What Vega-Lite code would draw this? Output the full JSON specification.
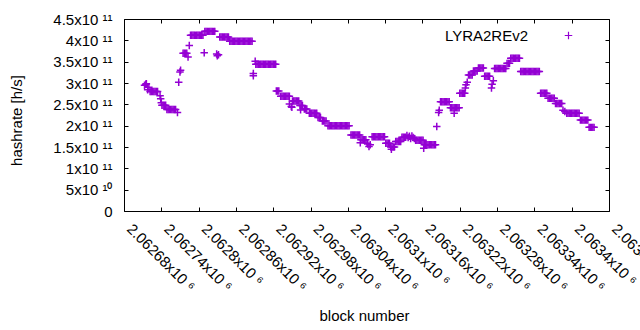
{
"$schema":"https://vega.github.io/schema/vega-lite/v6.json",
"width":485,"height":192,
"autosize":{"type":"none"},
"padding":{"left":124,"top":19,"right":31,"bottom":119},
"background":"white",
"config":{"view":{"stroke":"black","strokeWidth":1},"font":"Liberation Sans",
"axis":{"labelFont":"Liberation Sans","labelFontSize":15,"labelColor":"black","titleFont":"Liberation Sans","titleFontSize":15,"titleFontWeight":"normal","titleColor":"black","tickColor":"black","tickSize":-4,"domain":false,"grid":false}},
"data":{"values":[
{"b":2062713,"h":2.95e11},{"b":2062715,"h":2.97e11},{"b":2062716,"h":2.98e11},{"b":2062718,"h":2.84e11},{"b":2062720,"h":2.9e11},
{"b":2062722,"h":2.8e11},{"b":2062724,"h":2.8e11},{"b":2062726,"h":2.8e11},{"b":2062728,"h":2.8e11},{"b":2062730,"h":2.8e11},{"b":2062732,"h":2.8e11},{"b":2062734,"h":2.8e11},
{"b":2062738,"h":2.7e11},{"b":2062739,"h":2.63e11},{"b":2062740,"h":2.54e11},
{"b":2062741,"h":2.48e11},{"b":2062743,"h":2.48e11},{"b":2062745,"h":2.48e11},{"b":2062747,"h":2.48e11},
{"b":2062749,"h":2.38e11},{"b":2062751,"h":2.38e11},{"b":2062753,"h":2.38e11},{"b":2062755,"h":2.38e11},{"b":2062757,"h":2.38e11},{"b":2062759,"h":2.38e11},{"b":2062761,"h":2.38e11},{"b":2062763,"h":2.38e11},
{"b":2062766,"h":2.31e11},{"b":2062768,"h":3.02e11},{"b":2062770,"h":3.26e11},{"b":2062771,"h":3.3e11},
{"b":2062775,"h":3.7e11},{"b":2062777,"h":3.7e11},{"b":2062779,"h":3.7e11},{"b":2062781,"h":3.7e11},
{"b":2062783,"h":3.61e11},{"b":2062785,"h":3.88e11},
{"b":2062787,"h":4.12e11},{"b":2062789,"h":4.12e11},{"b":2062791,"h":4.12e11},{"b":2062793,"h":4.12e11},{"b":2062795,"h":4.12e11},{"b":2062797,"h":4.12e11},{"b":2062799,"h":4.12e11},{"b":2062801,"h":4.12e11},{"b":2062803,"h":4.12e11},{"b":2062805,"h":4.12e11},{"b":2062807,"h":4.12e11},
{"b":2062809,"h":3.71e11},
{"b":2062810,"h":4.21e11},{"b":2062812,"h":4.21e11},{"b":2062814,"h":4.21e11},{"b":2062816,"h":4.21e11},{"b":2062818,"h":4.21e11},{"b":2062820,"h":4.21e11},{"b":2062822,"h":4.21e11},{"b":2062824,"h":4.21e11},{"b":2062826,"h":4.21e11},
{"b":2062829,"h":3.68e11},{"b":2062830,"h":3.64e11},{"b":2062832,"h":3.66e11},
{"b":2062834,"h":4.08e11},{"b":2062836,"h":4.08e11},{"b":2062838,"h":4.08e11},{"b":2062840,"h":4.08e11},{"b":2062842,"h":4.08e11},{"b":2062844,"h":4.08e11},{"b":2062846,"h":4.08e11},{"b":2062848,"h":4.08e11},
{"b":2062850,"h":3.98e11},{"b":2062852,"h":3.98e11},{"b":2062854,"h":3.98e11},{"b":2062856,"h":3.98e11},{"b":2062858,"h":3.98e11},{"b":2062860,"h":3.98e11},{"b":2062862,"h":3.98e11},{"b":2062864,"h":3.98e11},{"b":2062866,"h":3.98e11},{"b":2062868,"h":3.98e11},{"b":2062870,"h":3.98e11},{"b":2062872,"h":3.98e11},{"b":2062874,"h":3.98e11},{"b":2062876,"h":3.98e11},{"b":2062878,"h":3.98e11},{"b":2062880,"h":3.98e11},{"b":2062882,"h":3.98e11},{"b":2062884,"h":3.98e11},{"b":2062886,"h":3.98e11},
{"b":2062888,"h":3.22e11},{"b":2062888,"h":3.17e11},{"b":2062891,"h":3.51e11},
{"b":2062892,"h":3.44e11},{"b":2062894,"h":3.44e11},{"b":2062896,"h":3.44e11},{"b":2062898,"h":3.44e11},{"b":2062900,"h":3.44e11},{"b":2062902,"h":3.44e11},{"b":2062904,"h":3.44e11},{"b":2062906,"h":3.44e11},{"b":2062908,"h":3.44e11},{"b":2062910,"h":3.44e11},{"b":2062912,"h":3.44e11},{"b":2062914,"h":3.44e11},{"b":2062916,"h":3.44e11},{"b":2062918,"h":3.44e11},{"b":2062920,"h":3.44e11},{"b":2062922,"h":3.44e11},{"b":2062924,"h":3.44e11},
{"b":2062925,"h":2.81e11},{"b":2062927,"h":2.81e11},{"b":2062929,"h":2.81e11},
{"b":2062932,"h":2.69e11},{"b":2062934,"h":2.69e11},{"b":2062936,"h":2.69e11},{"b":2062938,"h":2.69e11},{"b":2062940,"h":2.69e11},{"b":2062942,"h":2.69e11},{"b":2062944,"h":2.69e11},{"b":2062946,"h":2.69e11},
{"b":2062946,"h":2.51e11},{"b":2062949,"h":2.45e11},{"b":2062950,"h":2.43e11},
{"b":2062951,"h":2.58e11},{"b":2062953,"h":2.58e11},{"b":2062955,"h":2.58e11},{"b":2062957,"h":2.58e11},{"b":2062959,"h":2.58e11},{"b":2062961,"h":2.58e11},
{"b":2062963,"h":2.47e11},{"b":2062965,"h":2.47e11},{"b":2062967,"h":2.47e11},{"b":2062964,"h":2.37e11},
{"b":2062970,"h":2.39e11},{"b":2062972,"h":2.39e11},{"b":2062974,"h":2.39e11},
{"b":2062978,"h":2.29e11},{"b":2062980,"h":2.29e11},{"b":2062982,"h":2.29e11},{"b":2062984,"h":2.29e11},{"b":2062986,"h":2.29e11},{"b":2062988,"h":2.29e11},{"b":2062990,"h":2.29e11},
{"b":2062992,"h":2.19e11},{"b":2062994,"h":2.19e11},{"b":2062996,"h":2.19e11},
{"b":2062999,"h":2.11e11},{"b":2063001,"h":2.11e11},{"b":2063003,"h":2.11e11},{"b":2063005,"h":2.11e11},
{"b":2063008,"h":2.0e11},{"b":2063010,"h":2.0e11},{"b":2063012,"h":2.0e11},{"b":2063014,"h":2.0e11},{"b":2063016,"h":2.0e11},{"b":2063018,"h":2.0e11},{"b":2063020,"h":2.0e11},{"b":2063022,"h":2.0e11},{"b":2063024,"h":2.0e11},{"b":2063026,"h":2.0e11},{"b":2063028,"h":2.0e11},{"b":2063030,"h":2.0e11},{"b":2063032,"h":2.0e11},{"b":2063034,"h":2.0e11},{"b":2063036,"h":2.0e11},{"b":2063038,"h":2.0e11},{"b":2063040,"h":2.0e11},{"b":2063042,"h":2.0e11},
{"b":2063045,"h":1.78e11},{"b":2063047,"h":1.78e11},{"b":2063049,"h":1.78e11},{"b":2063051,"h":1.78e11},{"b":2063053,"h":1.78e11},{"b":2063055,"h":1.78e11},{"b":2063057,"h":1.78e11},{"b":2063059,"h":1.78e11},
{"b":2063060,"h":1.6e11},
{"b":2063061,"h":1.67e11},{"b":2063063,"h":1.67e11},{"b":2063065,"h":1.67e11},{"b":2063067,"h":1.67e11},{"b":2063069,"h":1.67e11},
{"b":2063071,"h":1.59e11},{"b":2063072,"h":1.57e11},{"b":2063074,"h":1.51e11},{"b":2063076,"h":1.55e11},
{"b":2063079,"h":1.74e11},{"b":2063081,"h":1.74e11},{"b":2063083,"h":1.74e11},{"b":2063085,"h":1.74e11},{"b":2063087,"h":1.74e11},{"b":2063089,"h":1.74e11},{"b":2063091,"h":1.74e11},{"b":2063093,"h":1.74e11},{"b":2063095,"h":1.74e11},{"b":2063097,"h":1.74e11},{"b":2063099,"h":1.74e11},
{"b":2063101,"h":1.59e11},{"b":2063103,"h":1.59e11},{"b":2063105,"h":1.59e11},{"b":2063107,"h":1.59e11},
{"b":2063109,"h":1.5e11},{"b":2063111,"h":1.5e11},{"b":2063113,"h":1.5e11},{"b":2063115,"h":1.5e11},{"b":2063110,"h":1.45e11},
{"b":2063117,"h":1.63e11},{"b":2063119,"h":1.63e11},{"b":2063121,"h":1.63e11},{"b":2063123,"h":1.63e11},{"b":2063125,"h":1.63e11},
{"b":2063127,"h":1.73e11},{"b":2063129,"h":1.73e11},{"b":2063131,"h":1.73e11},{"b":2063133,"h":1.73e11},
{"b":2063135,"h":1.77e11},{"b":2063137,"h":1.72e11},{"b":2063139,"h":1.75e11},{"b":2063141,"h":1.7e11},{"b":2063143,"h":1.76e11},{"b":2063145,"h":1.72e11},{"b":2063147,"h":1.7e11},
{"b":2063149,"h":1.66e11},{"b":2063151,"h":1.66e11},{"b":2063153,"h":1.66e11},{"b":2063155,"h":1.66e11},{"b":2063157,"h":1.66e11},{"b":2063159,"h":1.66e11},{"b":2063161,"h":1.66e11},
{"b":2063162,"h":1.47e11},
{"b":2063163,"h":1.55e11},{"b":2063165,"h":1.55e11},{"b":2063167,"h":1.55e11},{"b":2063169,"h":1.55e11},{"b":2063171,"h":1.55e11},{"b":2063173,"h":1.55e11},{"b":2063175,"h":1.55e11},{"b":2063177,"h":1.55e11},{"b":2063179,"h":1.55e11},{"b":2063181,"h":1.55e11},
{"b":2063183,"h":1.98e11},{"b":2063186,"h":2.31e11},{"b":2063187,"h":2.36e11},
{"b":2063189,"h":2.56e11},{"b":2063191,"h":2.56e11},{"b":2063193,"h":2.56e11},{"b":2063195,"h":2.56e11},{"b":2063197,"h":2.56e11},{"b":2063199,"h":2.56e11},{"b":2063201,"h":2.56e11},{"b":2063203,"h":2.56e11},
{"b":2063205,"h":2.42e11},{"b":2063207,"h":2.42e11},{"b":2063209,"h":2.42e11},{"b":2063211,"h":2.42e11},{"b":2063213,"h":2.42e11},{"b":2063215,"h":2.42e11},{"b":2063217,"h":2.42e11},{"b":2063219,"h":2.42e11},{"b":2063211,"h":2.29e11},
{"b":2063220,"h":2.76e11},{"b":2063222,"h":2.76e11},{"b":2063224,"h":2.76e11},{"b":2063226,"h":2.76e11},{"b":2063228,"h":2.76e11},
{"b":2063229,"h":2.88e11},{"b":2063230,"h":2.96e11},{"b":2063232,"h":3.02e11},
{"b":2063234,"h":3.19e11},{"b":2063236,"h":3.19e11},{"b":2063238,"h":3.19e11},{"b":2063240,"h":3.19e11},
{"b":2063242,"h":3.28e11},{"b":2063244,"h":3.28e11},{"b":2063246,"h":3.28e11},{"b":2063248,"h":3.28e11},
{"b":2063250,"h":3.35e11},{"b":2063252,"h":3.35e11},{"b":2063254,"h":3.35e11},{"b":2063256,"h":3.35e11},{"b":2063258,"h":3.35e11},
{"b":2063260,"h":3.16e11},{"b":2063262,"h":3.16e11},{"b":2063264,"h":3.16e11},{"b":2063266,"h":3.16e11},{"b":2063268,"h":3.16e11},
{"b":2063271,"h":2.88e11},{"b":2063272,"h":2.97e11},{"b":2063274,"h":3.05e11},
{"b":2063276,"h":3.34e11},{"b":2063278,"h":3.34e11},{"b":2063280,"h":3.34e11},{"b":2063282,"h":3.34e11},{"b":2063284,"h":3.34e11},{"b":2063286,"h":3.34e11},{"b":2063288,"h":3.34e11},{"b":2063290,"h":3.34e11},{"b":2063292,"h":3.34e11},{"b":2063294,"h":3.34e11},
{"b":2063296,"h":3.46e11},{"b":2063298,"h":3.46e11},{"b":2063300,"h":3.46e11},
{"b":2063302,"h":3.58e11},{"b":2063304,"h":3.58e11},{"b":2063306,"h":3.58e11},{"b":2063308,"h":3.58e11},{"b":2063310,"h":3.58e11},{"b":2063312,"h":3.58e11},{"b":2063314,"h":3.58e11},{"b":2063316,"h":3.58e11},
{"b":2063318,"h":3.27e11},{"b":2063320,"h":3.27e11},{"b":2063322,"h":3.27e11},{"b":2063324,"h":3.27e11},{"b":2063326,"h":3.27e11},{"b":2063328,"h":3.27e11},{"b":2063330,"h":3.27e11},{"b":2063332,"h":3.27e11},{"b":2063334,"h":3.27e11},{"b":2063336,"h":3.27e11},{"b":2063338,"h":3.27e11},{"b":2063340,"h":3.27e11},{"b":2063342,"h":3.27e11},{"b":2063344,"h":3.27e11},{"b":2063346,"h":3.27e11},{"b":2063348,"h":3.27e11},
{"b":2063350,"h":2.76e11},{"b":2063352,"h":2.76e11},{"b":2063354,"h":2.76e11},{"b":2063356,"h":2.76e11},{"b":2063358,"h":2.76e11},{"b":2063360,"h":2.76e11},
{"b":2063362,"h":2.64e11},{"b":2063364,"h":2.64e11},{"b":2063366,"h":2.64e11},{"b":2063368,"h":2.64e11},{"b":2063370,"h":2.64e11},{"b":2063372,"h":2.64e11},
{"b":2063374,"h":2.52e11},{"b":2063376,"h":2.52e11},{"b":2063378,"h":2.52e11},{"b":2063380,"h":2.52e11},{"b":2063382,"h":2.52e11},{"b":2063384,"h":2.52e11},
{"b":2063386,"h":2.36e11},{"b":2063389,"h":2.33e11},
{"b":2063392,"h":2.29e11},{"b":2063394,"h":2.29e11},{"b":2063396,"h":2.29e11},{"b":2063398,"h":2.29e11},{"b":2063400,"h":2.29e11},{"b":2063402,"h":2.29e11},{"b":2063404,"h":2.29e11},{"b":2063406,"h":2.29e11},{"b":2063408,"h":2.29e11},{"b":2063410,"h":2.29e11},{"b":2063412,"h":2.29e11},
{"b":2063414,"h":2.13e11},{"b":2063416,"h":2.13e11},{"b":2063418,"h":2.13e11},{"b":2063420,"h":2.13e11},{"b":2063422,"h":2.13e11},{"b":2063424,"h":2.13e11},{"b":2063426,"h":2.13e11},
{"b":2063428,"h":1.96e11},{"b":2063430,"h":1.96e11},{"b":2063432,"h":1.96e11},{"b":2063434,"h":1.96e11},{"b":2063436,"h":1.96e11}
]},
"layer":[
{"mark":{"type":"point","shape":"M-1,0H1M0,-1V1","filled":false,"strokeWidth":1.5,"size":56,"opacity":1},
"encoding":{
"x":{"field":"b","type":"quantitative","scale":{"domain":[2062680,2063460],"nice":false,"zero":false},
"axis":{"orient":"bottom","values":[2062680,2062740,2062800,2062860,2062920,2062980,2063040,2063100,2063160,2063220,2063280,2063340,2063400,2063460],"labelExpr":"format(datum.value/1000000, '.6~g') + 'x10 ⁶'","labelAngle":45,"labelAlign":"left","labelBaseline":"top","labelPadding":14,"labelOffset":10,"labelOverlap":false,"labelFlush":false,"title":"block number","titleX":240,"titleY":109,"titleBaseline":"alphabetic","titleAlign":"center","titleAngle":0}},
"y":{"field":"h","type":"quantitative","scale":{"domain":[0,450000000000],"nice":false,"zero":true},
"axis":{"orient":"left","values":[0,50000000000,100000000000,150000000000,200000000000,250000000000,300000000000,350000000000,400000000000,450000000000],"labelExpr":"datum.value == 0 ? '0' : (datum.value < 100000000000 ? format(datum.value/10000000000, '~g') + 'x10 ¹⁰' : format(datum.value/100000000000, '~g') + 'x10 ¹¹')","labelPadding":16,"labelOverlap":false,"labelFlush":false,"title":"hashrate [h/s]","titleX":-103,"titleY":101,"titleAngle":-90,"titleBaseline":"alphabetic","titleAlign":"center"}},
"color":{"datum":"LYRA2REv2","scale":{"range":["#9400d3"]},
"legend":{"orient":"none","legendX":437,"legendY":9,"title":null,"padding":0,"symbolType":"M-1,0H1M0,-1V1","symbolSize":56,"symbolStrokeWidth":1.2,"labelFont":"Liberation Sans","labelFontSize":15,"labelColor":"black","labelAlign":"right","labelOffset":-48}}
}},
{"mark":{"type":"point","opacity":0},
"encoding":{
"x":{"field":"b","type":"quantitative","scale":{"domain":[2062680,2063460],"nice":false,"zero":false},
"axis":{"orient":"top","labels":false,"title":null,"values":[2062680,2062740,2062800,2062860,2062920,2062980,2063040,2063100,2063160,2063220,2063280,2063340,2063400,2063460]}},
"y":{"field":"h","type":"quantitative","scale":{"domain":[0,450000000000],"nice":false,"zero":true},
"axis":{"orient":"right","labels":false,"title":null,"values":[0,50000000000,100000000000,150000000000,200000000000,250000000000,300000000000,350000000000,400000000000,450000000000]}}
}}
],
"resolve":{"axis":{"x":"independent","y":"independent"}}
}
